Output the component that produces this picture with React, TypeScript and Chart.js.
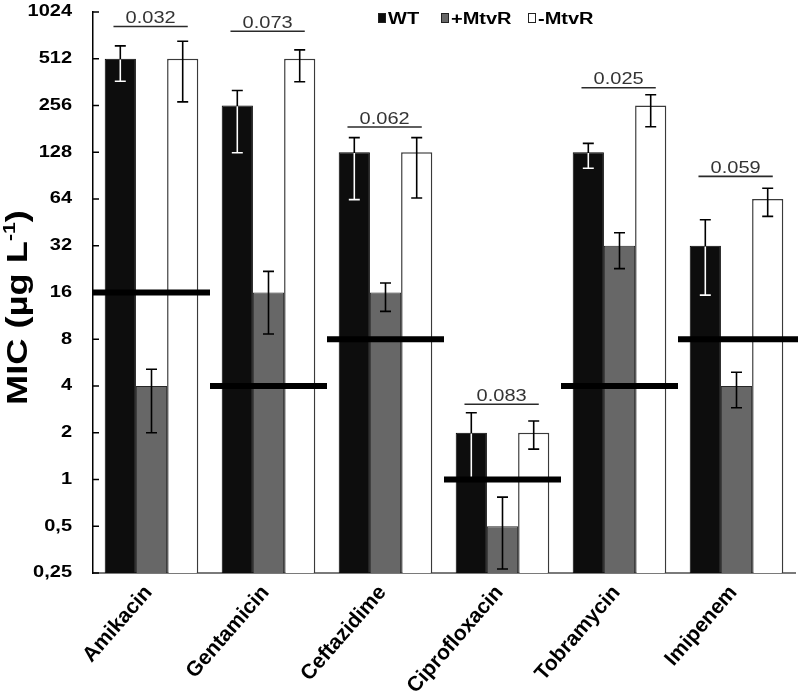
import React, { useEffect, useRef } from 'react';
import { Chart, registerables } from 'chart.js';

Chart.register(...registerables);

const categories = ['Amikacin', 'Gentamicin', 'Ceftazidime', 'Ciprofloxacin', 'Tobramycin', 'Imipenem'];
const seriesNames = ['WT', '+MtvR', '-MtvR'];

const wtValues = [512, 256, 128, 2, 128, 32];
const wtUpper = [620, 320, 159, 2.69, 146, 47];
const wtLower = [367, 127, 63.4, 1.0, 101, 15.4];

const plusValues = [4, 16, 16, 0.5, 32, 4];
const plusUpper = [5.13, 21.9, 18.4, 0.77, 38.8, 4.9];
const plusLower = [2, 8.65, 12.1, 0.265, 22.8, 2.9];

const minusValues = [512, 512, 128, 2, 256, 64];
const minusUpper = [663, 584, 159, 2.38, 300, 75];
const minusLower = [270, 364, 64.9, 1.57, 187, 49.5];

const breakpoints = [16, 4, 8, 1, 4, 8];
const pValueLabels = ['0.032', '0.073', '0.062', '0.083', '0.025', '0.059'];
const pValueLevels = [826, 770, 186, 3.05, 333, 89.5];

const yTickValues = [0.25, 0.5, 1, 2, 4, 8, 16, 32, 64, 128, 256, 512, 1024];
const yTickLabels = ['0,25', '0,5', '1', '2', '4', '8', '16', '32', '64', '128', '256', '512', '1024'];

const FAMILY = '"Liberation Sans", Arial, Helvetica, sans-serif';
const colors = ['#0d0d0d', '#676767', '#ffffff'];
const borders = ['#000000', '#262626', '#3a3a3a'];
const SX = 1.25;

function stretchedText(ctx: CanvasRenderingContext2D, text: string, x: number, y: number, font: string, align: string, sx: number, color: string, baseline: CanvasTextBaseline = 'alphabetic') {
  ctx.save();
  ctx.font = font;
  ctx.fillStyle = color;
  ctx.textBaseline = baseline;
  ctx.textAlign = 'left';
  const w = ctx.measureText(text).width * sx;
  let x0 = x;
  if (align === 'right') x0 = x - w;
  else if (align === 'center') x0 = x - w / 2;
  ctx.translate(x0, y);
  ctx.scale(sx, 1);
  ctx.fillText(text, 0, 0);
  ctx.restore();
}

function drawErrorBar(ctx: CanvasRenderingContext2D, x: number, yt: number, yb: number, color: string) {
  const cap = 5.5;
  ctx.save();
  ctx.strokeStyle = color;
  ctx.lineWidth = 1.6;
  ctx.beginPath();
  ctx.moveTo(x, yt);
  ctx.lineTo(x, yb);
  ctx.moveTo(x - cap, yt);
  ctx.lineTo(x + cap, yt);
  ctx.moveTo(x - cap, yb);
  ctx.lineTo(x + cap, yb);
  ctx.stroke();
  ctx.restore();
}

const overlayPlugin = {
  id: 'overlayPlugin',
  afterDatasetsDraw(chart: any) {
    const ctx: CanvasRenderingContext2D = chart.ctx;
    const xs = chart.scales.x;
    const ys = chart.scales.y;
    const area = chart.chartArea;
    const errs = [[wtUpper, wtLower], [plusUpper, plusLower], [minusUpper, minusLower]];
    errs.forEach(([up, lo], di) => {
      const meta = chart.getDatasetMeta(di);
      meta.data.forEach((bar: any, j: number) => {
        const p = bar.getProps(['x', 'y', 'base', 'width'], true);
        const yt = ys.getPixelForValue(up[j]);
        const yb = ys.getPixelForValue(lo[j]);
        drawErrorBar(ctx, p.x, yt, yb, '#000');
        if (di === 0) {
          ctx.save();
          ctx.beginPath();
          ctx.rect(p.x - p.width / 2 + 1, p.y + 0.8, p.width - 2, p.base - p.y);
          ctx.clip();
          drawErrorBar(ctx, p.x, yt, yb, '#ffffff');
          ctx.restore();
        }
      });
    });

    const cw = (area.right - area.left) / categories.length;
    ctx.save();
    ctx.fillStyle = '#000';
    breakpoints.forEach((v, j) => {
      const cx = xs.getPixelForValue(j);
      const py = ys.getPixelForValue(v);
      ctx.fillRect(cx - cw / 2, py - 3, cw + (j === categories.length - 1 ? 3 : 0), 6);
    });
    ctx.restore();

    pValueLabels.forEach((txt, j) => {
      const cx = xs.getPixelForValue(j);
      const x1 = cx - cw * 0.325;
      const x2 = cx + cw * 0.31;
      const py = ys.getPixelForValue(pValueLevels[j]);
      ctx.save();
      ctx.strokeStyle = '#2a2a2a';
      ctx.lineWidth = 1.6;
      ctx.beginPath();
      ctx.moveTo(x1, py);
      ctx.lineTo(x2, py);
      ctx.stroke();
      ctx.restore();
      stretchedText(ctx, txt, (x1 + x2) / 2, py - 3.5, `16px ${FAMILY}`, 'center', SX, '#333333');
    });
  },
  afterDraw(chart: any) {
    const ctx: CanvasRenderingContext2D = chart.ctx;
    const xs = chart.scales.x;
    const ys = chart.scales.y;
    const area = chart.chartArea;

    // inward tick marks + labels
    ctx.save();
    ctx.strokeStyle = '#000';
    ctx.lineWidth = 1.5;
    yTickValues.forEach((v) => {
      const py = ys.getPixelForValue(v);
      ctx.beginPath();
      ctx.moveTo(area.left, py);
      ctx.lineTo(area.left + 6, py);
      ctx.stroke();
    });
    ctx.restore();
    yTickValues.forEach((v, i) => {
      const py = ys.getPixelForValue(v);
      stretchedText(ctx, yTickLabels[i], area.left - 21, py, `bold 16px ${FAMILY}`, 'right', SX, '#000', 'middle');
    });

    // x category labels (rotated)
    categories.forEach((lab, j) => {
      const cx = xs.getPixelForValue(j);
      ctx.save();
      ctx.translate(cx - 3, area.bottom + 16);
      ctx.rotate((-49 * Math.PI) / 180);
      ctx.font = `bold 21px ${FAMILY}`;
      ctx.fillStyle = '#000';
      ctx.textAlign = 'right';
      ctx.textBaseline = 'middle';
      ctx.fillText(lab, 0, 0);
      ctx.restore();
    });

    // legend
    const legendItems = [
      { box: 378, text: 388 },
      { box: 441, text: 451 },
      { box: 528, text: 538 },
    ];
    legendItems.forEach((it, i) => {
      ctx.save();
      ctx.fillStyle = colors[i];
      ctx.fillRect(it.box, 13, 8, 10);
      ctx.strokeStyle = '#222';
      ctx.lineWidth = 1;
      ctx.strokeRect(it.box + 0.5, 13.5, 7, 9);
      ctx.restore();
      stretchedText(ctx, seriesNames[i], it.text, 23.5, `bold 16px ${FAMILY}`, 'left', SX, '#000');
    });

    // y-axis title
    ctx.save();
    const cy = (area.top + area.bottom) / 2 + 15;
    ctx.translate(27, cy);
    ctx.rotate(-Math.PI / 2);
    ctx.scale(1.25, 1);
    ctx.fillStyle = '#000';
    ctx.textBaseline = 'alphabetic';
    ctx.textAlign = 'left';
    const mainFont = `bold 29px ${FAMILY}`;
    const supFont = `bold 17px ${FAMILY}`;
    ctx.font = mainFont;
    const p1 = 'MIC (\u00b5g L';
    const p3 = ')';
    const w1 = ctx.measureText(p1).width;
    const w3 = ctx.measureText(p3).width;
    ctx.font = supFont;
    const p2 = '-1';
    const w2 = ctx.measureText(p2).width;
    const total = w1 + w2 + w3;
    let xx = -total / 2;
    ctx.font = mainFont;
    ctx.fillText(p1, xx, 0);
    xx += w1;
    ctx.font = supFont;
    ctx.fillText(p2, xx, -12);
    xx += w2;
    ctx.font = mainFont;
    ctx.fillText(p3, xx, 0);
    ctx.restore();
  },
};

export default function App() {
  const canvasRef = useRef<HTMLCanvasElement | null>(null);

  useEffect(() => {
    if (!canvasRef.current) return;
    const valueSets = [wtValues, plusValues, minusValues];
    const chart = new Chart(canvasRef.current, {
      type: 'bar',
      data: {
        labels: categories,
        datasets: valueSets.map((vals, i) => ({
          label: seriesNames[i],
          data: vals,
          backgroundColor: colors[i],
          borderColor: borders[i],
          borderWidth: i === 2 ? 1.5 : 1,
          categoryPercentage: 0.8,
          barPercentage: 1.0,
        })),
      },
      options: {
        responsive: false,
        animation: false,
        layout: { padding: { top: 12, right: 5, left: 0, bottom: 0 } },
        plugins: {
          legend: { display: false },
          tooltip: { enabled: false },
        },
        scales: {
          x: {
            type: 'category',
            grid: { display: false },
            border: { display: true, color: '#7a7a7a', width: 2 },
            ticks: { display: false },
            afterFit: (s: any) => {
              s.height = 124;
            },
          },
          y: {
            type: 'logarithmic',
            min: 0.25,
            max: 1024,
            grid: { display: false },
            border: { display: true, color: '#000', width: 1.5 },
            ticks: { display: false },
            afterFit: (s: any) => {
              s.width = 93;
            },
          },
        },
      },
      plugins: [overlayPlugin],
    } as any);
    return () => chart.destroy();
  }, []);

  return (
    <div style={{ position: 'absolute', left: 0, top: 0, width: 800, height: 697, background: '#fff' }}>
      <canvas ref={canvasRef} width={800} height={697} style={{ display: 'block' }} />
    </div>
  );
}
